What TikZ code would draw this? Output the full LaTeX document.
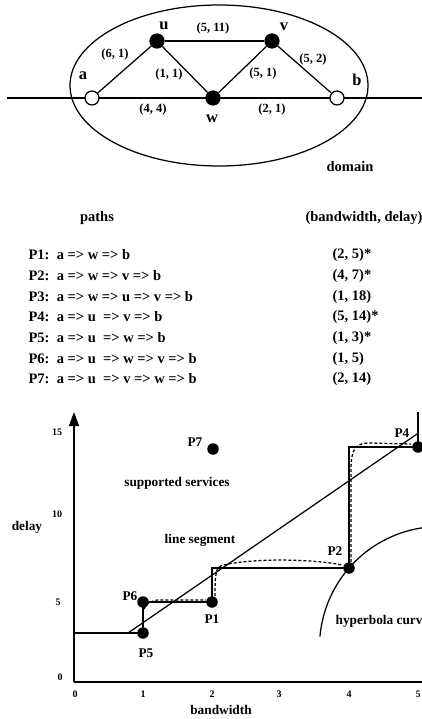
\documentclass[tikz,border=0pt]{standalone}
\usepackage{fontspec}
\setmainfont{Liberation Serif}
\usetikzlibrary{arrows.meta,shapes.geometric}
\begin{document}
\begin{tikzpicture}[x=1pt,y=-1pt,
  line width=1.25pt,
  every node/.style={inner sep=0pt},
  fullv/.style={circle,draw=black,fill=black,minimum size=14pt},
  openv/.style={circle,draw=black,fill=white,minimum size=14pt,line width=1.25pt},
  dotp/.style={circle,fill=black,minimum size=11.5pt},
  vlbl/.style={font=\fontsize{16.5}{18}\selectfont\bfseries},
  elbl/.style={font=\fontsize{12.5}{14}\selectfont\bfseries},
  ptxt/.style={font=\fontsize{14.5}{16}\selectfont\bfseries,anchor=west},
  htxt/.style={font=\fontsize{14.5}{16}\selectfont\bfseries},
  gtxt/.style={font=\fontsize{13.3}{15}\selectfont\bfseries},
  tick/.style={font=\fontsize{10}{12}\selectfont\bfseries},
  dashcurve/.style={dash pattern=on 3pt off 2pt,line width=1.25pt}]
\useasboundingbox (0,0) rectangle (422,719);

% ---------- domain graph ----------
\node[draw,ellipse,minimum width=298pt,minimum height=161pt,line width=1.25pt] (dom) at (219,85.5) {};
\coordinate (L) at (7,98);
\coordinate (R) at (422,98);
\draw (L) -- (R);
\node[openv] (a) at (92,98) {};
\node[fullv] (u) at (157,41) {};
\node[fullv] (v) at (272,41) {};
\node[fullv] (w) at (213,98) {};
\node[openv] (b) at (337,98) {};
\draw (a) -- (u);
\draw (u) -- (v);
\draw (u) -- (w);
\draw (w) -- (v);
\draw (v) -- (b);
\node[vlbl] at (83,76) {a};
\node[vlbl] at (164,26) {u};
\node[vlbl] at (284,27) {v};
\node[vlbl] at (212,119) {w};
\node[vlbl] at (357,80) {b};
\node[elbl] at (115,54) {(6, 1)};
\node[elbl] at (213,28) {(5, 11)};
\node[elbl] at (169,74) {(1, 1)};
\node[elbl] at (263,73) {(5, 1)};
\node[elbl] at (313,59) {(5, 2)};
\node[elbl] at (153,109) {(4, 4)};
\node[elbl] at (272,109) {(2, 1)};
\node[htxt] at (350,167) {domain};

% ---------- paths table ----------
\node[htxt] at (97,218) {paths};
\node[htxt] at (364,218) {(bandwidth, delay)};
\node[ptxt] at (28,255) {P1:\ \ a => w => b};
\node[ptxt] at (28,276) {P2:\ \ a => w => v => b};
\node[ptxt] at (28,297) {P3:\ \ a => w => u => v => b};
\node[ptxt] at (28,317) {P4:\ \ a => u\ \ => v => b};
\node[ptxt] at (28,338) {P5:\ \ a => u\ \ => w => b};
\node[ptxt] at (28,359) {P6:\ \ a => u\ \ => w => v => b};
\node[ptxt] at (28,379) {P7:\ \ a => u\ \ => v => w => b};
\node[ptxt] at (332,255) {(2, 5)*};
\node[ptxt] at (332,276) {(4, 7)*};
\node[ptxt] at (332,297) {(1, 18)};
\node[ptxt] at (332,317) {(5, 14)*};
\node[ptxt] at (332,338) {(1, 3)*};
\node[ptxt] at (332,359) {(1, 5)};
\node[ptxt] at (332,379) {(2, 14)};

% ---------- plot ----------
\coordinate (O) at (74,682);
\coordinate (Ytop) at (74,412);
\coordinate (Xend) at (422,682);
\draw[line width=1.5pt,-{Triangle[width=10pt,length=14pt]}] (O) -- (Ytop);
\draw[line width=1.5pt] (O) -- (Xend);

\node[tick] at (75,694) {0};
\node[tick] at (143,694) {1};
\node[tick] at (212,694) {2};
\node[tick] at (279,694) {3};
\node[tick] at (349,694) {4};
\node[tick] at (418,694) {5};
\node[tick] at (60,677) {0};
\node[tick] at (58,602) {5};
\node[tick] at (57,514) {10};
\node[tick] at (57,432) {15};

\node[gtxt] at (27,527) {delay};
\node[gtxt] at (221,710) {bandwidth};
\node[gtxt] at (177,483) {supported services};
\node[gtxt] at (200,540) {line segment};
\node[gtxt,anchor=west] at (335,621) {hyperbola curve};

% hyperbola (circular arc through P2)
\draw plot[domain=185:266,samples=60] ({440+120.5*cos(\x)},{647+120.5*sin(\x)});

% line segment
\coordinate (Ls) at (128,633);
\coordinate (Le) at (417,434);
\draw (Ls) -- (Le);

% points
\node[dotp] (P5) at (143,633) {};
\node[dotp] (P6) at (143,602) {};
\node[dotp] (P1) at (212,602) {};
\node[dotp] (P2) at (349,568) {};
\node[dotp] (P4) at (418,447) {};
\node[dotp] (P7) at (213,449) {};

% step function
\coordinate (S0) at (74,633);
\coordinate (Stop) at (418,412);
\draw (S0) -- (P5.center) -- (P6.center) -- (P1.center) |- (P2.center) |- (P4.center) -- (Stop);

% dashed approximation
\coordinate (d1) at (144,609);
\coordinate (d2) at (157,600);
\coordinate (d3) at (206,600);
\coordinate (d4) at (215,596);
\coordinate (d5) at (223,565);
\coordinate (d6) at (342,565);
\coordinate (d7) at (351,562);
\coordinate (d8) at (351,470);
\coordinate (d9) at (370,443);
\coordinate (d10) at (411,444);
\draw[dashcurve] (d1) .. controls (147,603) .. (d2) -- (d3);
\draw[dashcurve] (d4) .. controls (215,572) and (216,567) .. (d5) .. controls (260,557) and (320,560) .. (d6);
\draw[dashcurve] (d7) -- (d8) .. controls (351,448) and (356,443) .. (d9) -- (d10);

\node[gtxt] at (195,442) {P7};
\node[gtxt] at (130,596) {P6};
\node[gtxt] at (146,653) {P5};
\node[gtxt] at (212,619) {P1};
\node[gtxt] at (335,551) {P2};
\node[gtxt] at (402,433) {P4};
\end{tikzpicture}
\end{document}
